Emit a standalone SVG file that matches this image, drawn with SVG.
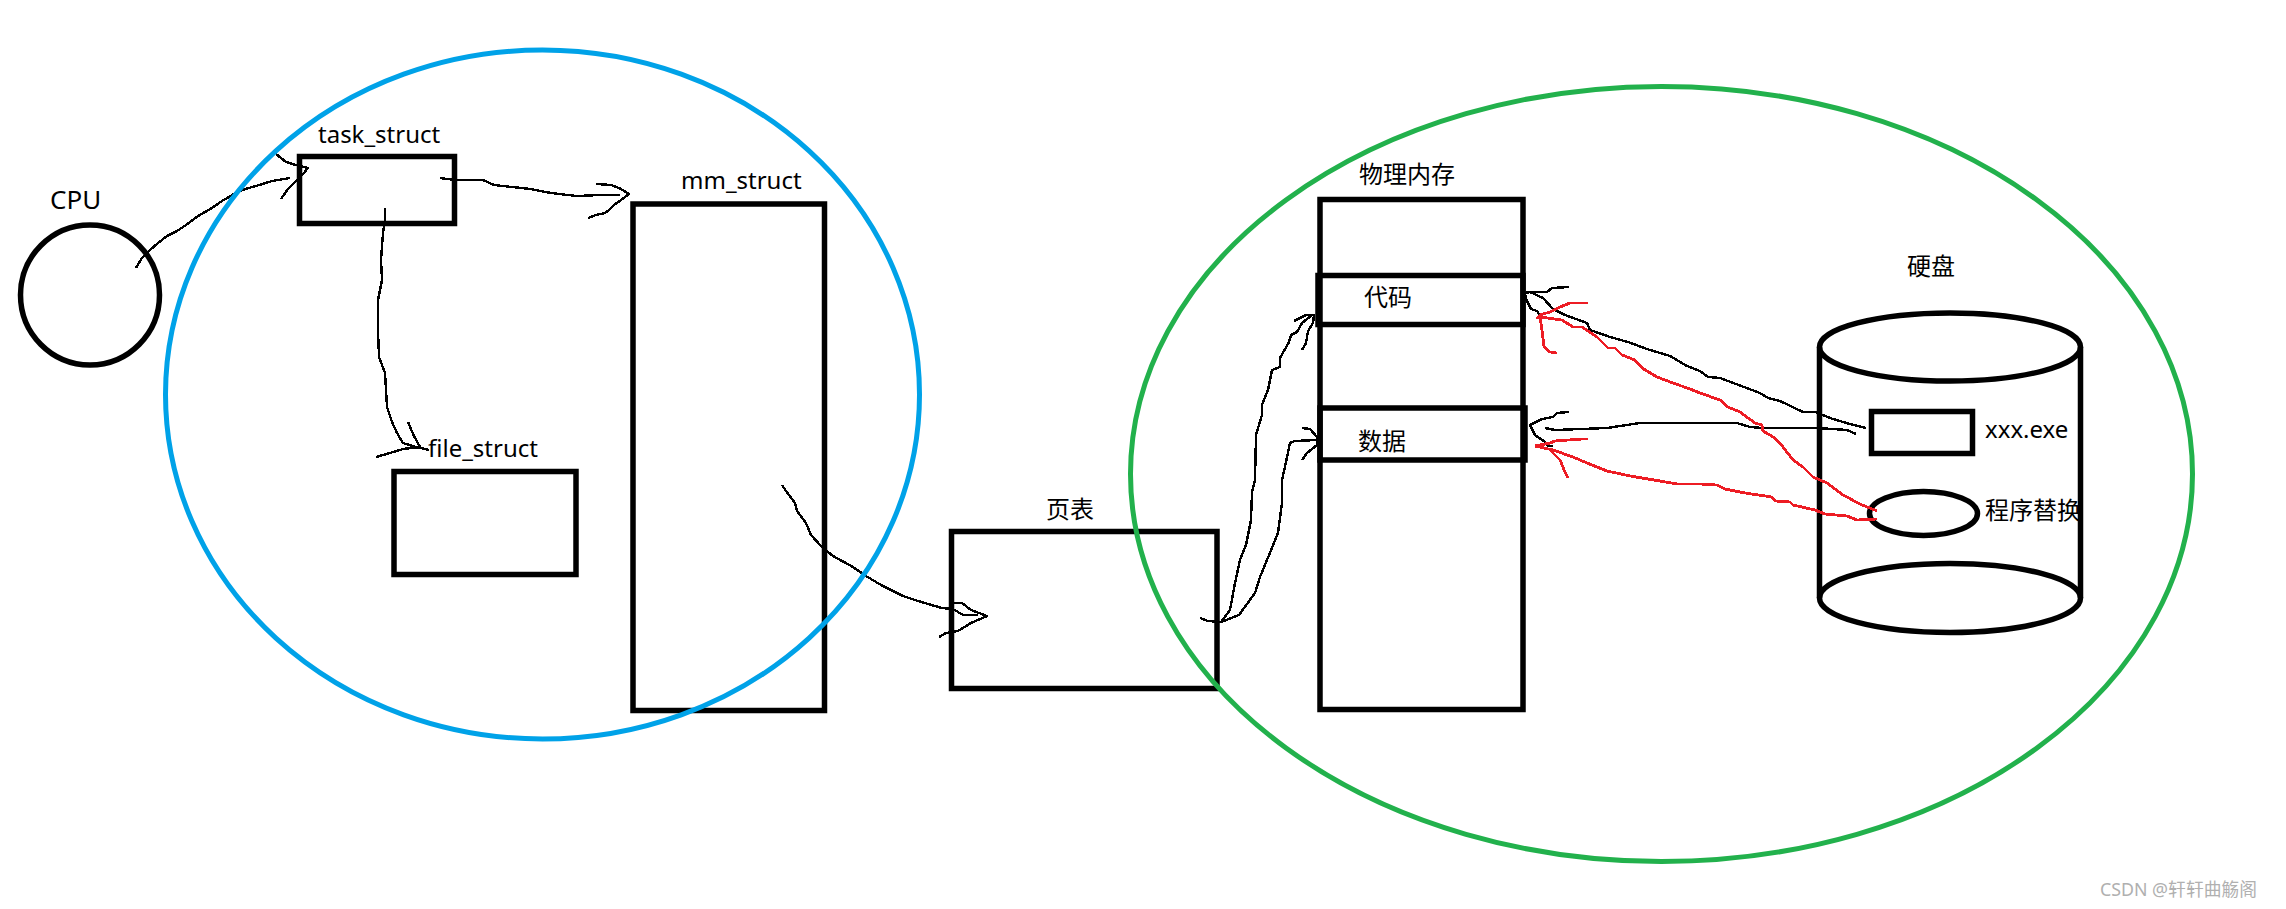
<svg xmlns="http://www.w3.org/2000/svg" width="2286" height="909" viewBox="0 0 2286 909">
<style>
.s{fill:none;stroke:#000;stroke-width:5.5}
.t{font-family:"Noto Sans","Noto Sans CJK SC",sans-serif;font-size:24px;fill:#000}
.c{font-family:"Noto Sans CJK SC","Noto Sans",sans-serif;font-size:24px;fill:#000}
.k{fill:none;stroke:#000;stroke-width:2.4;stroke-linejoin:round;shape-rendering:crispEdges}
.r{fill:none;stroke:#ed1c24;stroke-width:2.8;stroke-linejoin:round;shape-rendering:crispEdges}
</style>
<rect width="2286" height="909" fill="#fff"/>
<g id="cpu"><ellipse class="s" cx="90" cy="295" rx="69.5" ry="70"/><text class="t" x="50" y="209" font-size="26" style="font-size:26px">CPU</text></g>
<g id="task_struct"><rect class="s" x="299.5" y="156.5" width="155" height="67"/><text class="t" x="318" y="143">task_struct</text></g>
<g id="file_struct"><rect class="s" x="394" y="471.5" width="182" height="103"/><text class="t" x="428" y="457">file_struct</text></g>
<g id="mm_struct"><rect class="s" x="633" y="204" width="191.5" height="506.5"/><text class="t" x="681" y="189">mm_struct</text></g>
<g id="page_table"><rect class="s" x="951.5" y="531.5" width="265.5" height="157"/><text class="c" x="1046" y="518">页表</text></g>
<g id="physical_memory"><rect class="s" x="1320" y="199.5" width="203" height="510"/><text class="c" x="1359" y="183">物理内存</text></g>
<g id="code"><rect class="s" x="1318" y="275.5" width="205" height="49"/><text class="c" x="1364" y="306">代码</text></g>
<g id="data"><rect class="s" x="1320" y="408" width="205" height="52"/><text class="c" x="1358" y="450">数据</text></g>
<g id="disk">
<ellipse class="s" cx="1950" cy="347" rx="130.5" ry="34"/>
<ellipse class="s" cx="1950" cy="598" rx="130.5" ry="34.5"/>
<path class="s" d="M1819.5 347V598M2080.5 347V598"/>
<text class="c" x="1907" y="275">硬盘</text>
</g>
<g id="exe"><rect class="s" x="1871.5" y="411.5" width="101" height="42"/><text class="t" x="1985" y="438">xxx.exe</text></g>
<g id="replace"><ellipse class="s" cx="1923.5" cy="513.5" rx="54" ry="22"/><text class="c" x="1985" y="519">程序替换</text></g>
<g id="connectors">
<polyline class="k" points="136,268 142,258 150,250 158,243 167,236 177,231 186,225 198,216 212,208 222,201 234,194 245,189 256,186 272,181 290,178"/>
<polyline class="k" points="281,199 288,189 297,180 303,174 308,168 296,165 286,162 281,158 276,154"/>
<polyline class="k" points="440,178 455,180 483,180 494,185 512,187 531,189 545,192 559,194 577,196 600,195 620,195"/>
<polyline class="k" points="596,184 611,185 621,189 629,194 621,200 614,205 609,210 605,213 596,215 588,218"/>
<polyline class="k" points="385,208 385,220 383,233 381,260 382,280 378,300 378,330 379,357 385,373 386,390 387,407 392,422 397,433 403,443 416,447 429,450"/>
<polyline class="k" points="408,422 414,436 420,447 403,449 390,453 376,457"/>
<polyline class="k" points="782,485 786,491 795,503 797,511 806,523 811,535 822,547 833,556 853,567 866,576 881,585 903,596 915,600 928,604 942,608 953,609 963,615 978,615"/>
<polyline class="k" points="953,603 962,603 971,610 987,616 971,623 958,631 946,633 939,637"/>
<polyline class="k" points="1200,618 1208,621 1221,622 1230,610 1235,583 1240,560 1246,545 1251,520 1252,492 1255,480 1256,435 1262,415 1262,405 1268,390 1272,370 1280,367 1280,358 1289,342 1291,335 1297,332 1302,323 1312,315 1314,315"/>
<polyline class="k" points="1294,321 1306,315 1314,315 1313,323 1308,331 1306,343 1302,350"/>
<polyline class="k" points="1221,622 1239,615 1255,593 1260,577 1267,560 1278,533 1282,503 1282,480 1286,462 1290,443 1295,441 1317,440"/>
<polyline class="k" points="1302,428 1310,429 1317,437 1317,445 1307,453 1302,460"/>
<polyline class="k" points="1866,428 1850,424 1833,419 1815,412 1803,412 1780,401 1768,398 1760,393 1720,378 1708,377 1700,371 1687,366 1670,356 1647,349 1628,342 1610,337 1590,330 1587,323 1565,315 1553,309 1543,298 1530,292"/>
<polyline class="k" points="1569,287 1552,288 1547,292 1530,292 1525,293 1526,299 1531,309 1537,311 1540,316 1545,318"/>
<polyline class="k" points="1856,434 1847,430 1817,428 1762,428 1750,427 1737,423 1653,423 1640,423 1607,428 1555,430 1545,428"/>
<polyline class="k" points="1569,412 1557,413 1553,417 1542,419 1530,425 1535,435 1545,442 1548,446 1553,446"/>
<polyline class="r" points="1877,511 1860,504 1843,495 1827,483 1813,477 1803,467 1793,460 1783,447 1775,438 1763,431 1762,425 1755,423 1740,412 1728,407 1720,400 1700,393 1690,389 1673,383 1657,377 1642,368 1635,360 1622,355 1615,348 1608,348 1597,337 1582,327 1573,327 1562,320 1540,317"/>
<polyline class="r" points="1588,303 1570,303 1560,307 1550,312 1540,315 1537,319"/>
<polyline class="r" points="1540,317 1542,330 1544,347 1550,352 1557,353"/>
<polyline class="r" points="1877,519 1857,520 1847,516 1825,514 1815,510 1793,505 1790,502 1775,501 1772,497 1745,493 1725,489 1717,485 1700,484 1677,484 1660,481 1630,476 1607,471 1587,463 1573,457 1553,450 1535,446"/>
<polyline class="r" points="1588,439 1582,439 1555,441 1550,443 1535,446"/>
<polyline class="r" points="1550,450 1560,460 1565,472 1568,478"/>
</g>
<g id="virtual_space"><ellipse cx="542.5" cy="394.5" rx="377" ry="344.5" fill="none" stroke="#00a2e8" stroke-width="5"/></g>
<g id="physical_space"><ellipse cx="1661.5" cy="474" rx="531" ry="387.5" fill="none" stroke="#22b14c" stroke-width="5"/></g>
<text x="2100" y="896" font-family="'Noto Sans','Noto Sans CJK SC',sans-serif" font-size="17.8" fill="#b0b0b0">CSDN @轩轩曲觞阁</text>
</svg>
